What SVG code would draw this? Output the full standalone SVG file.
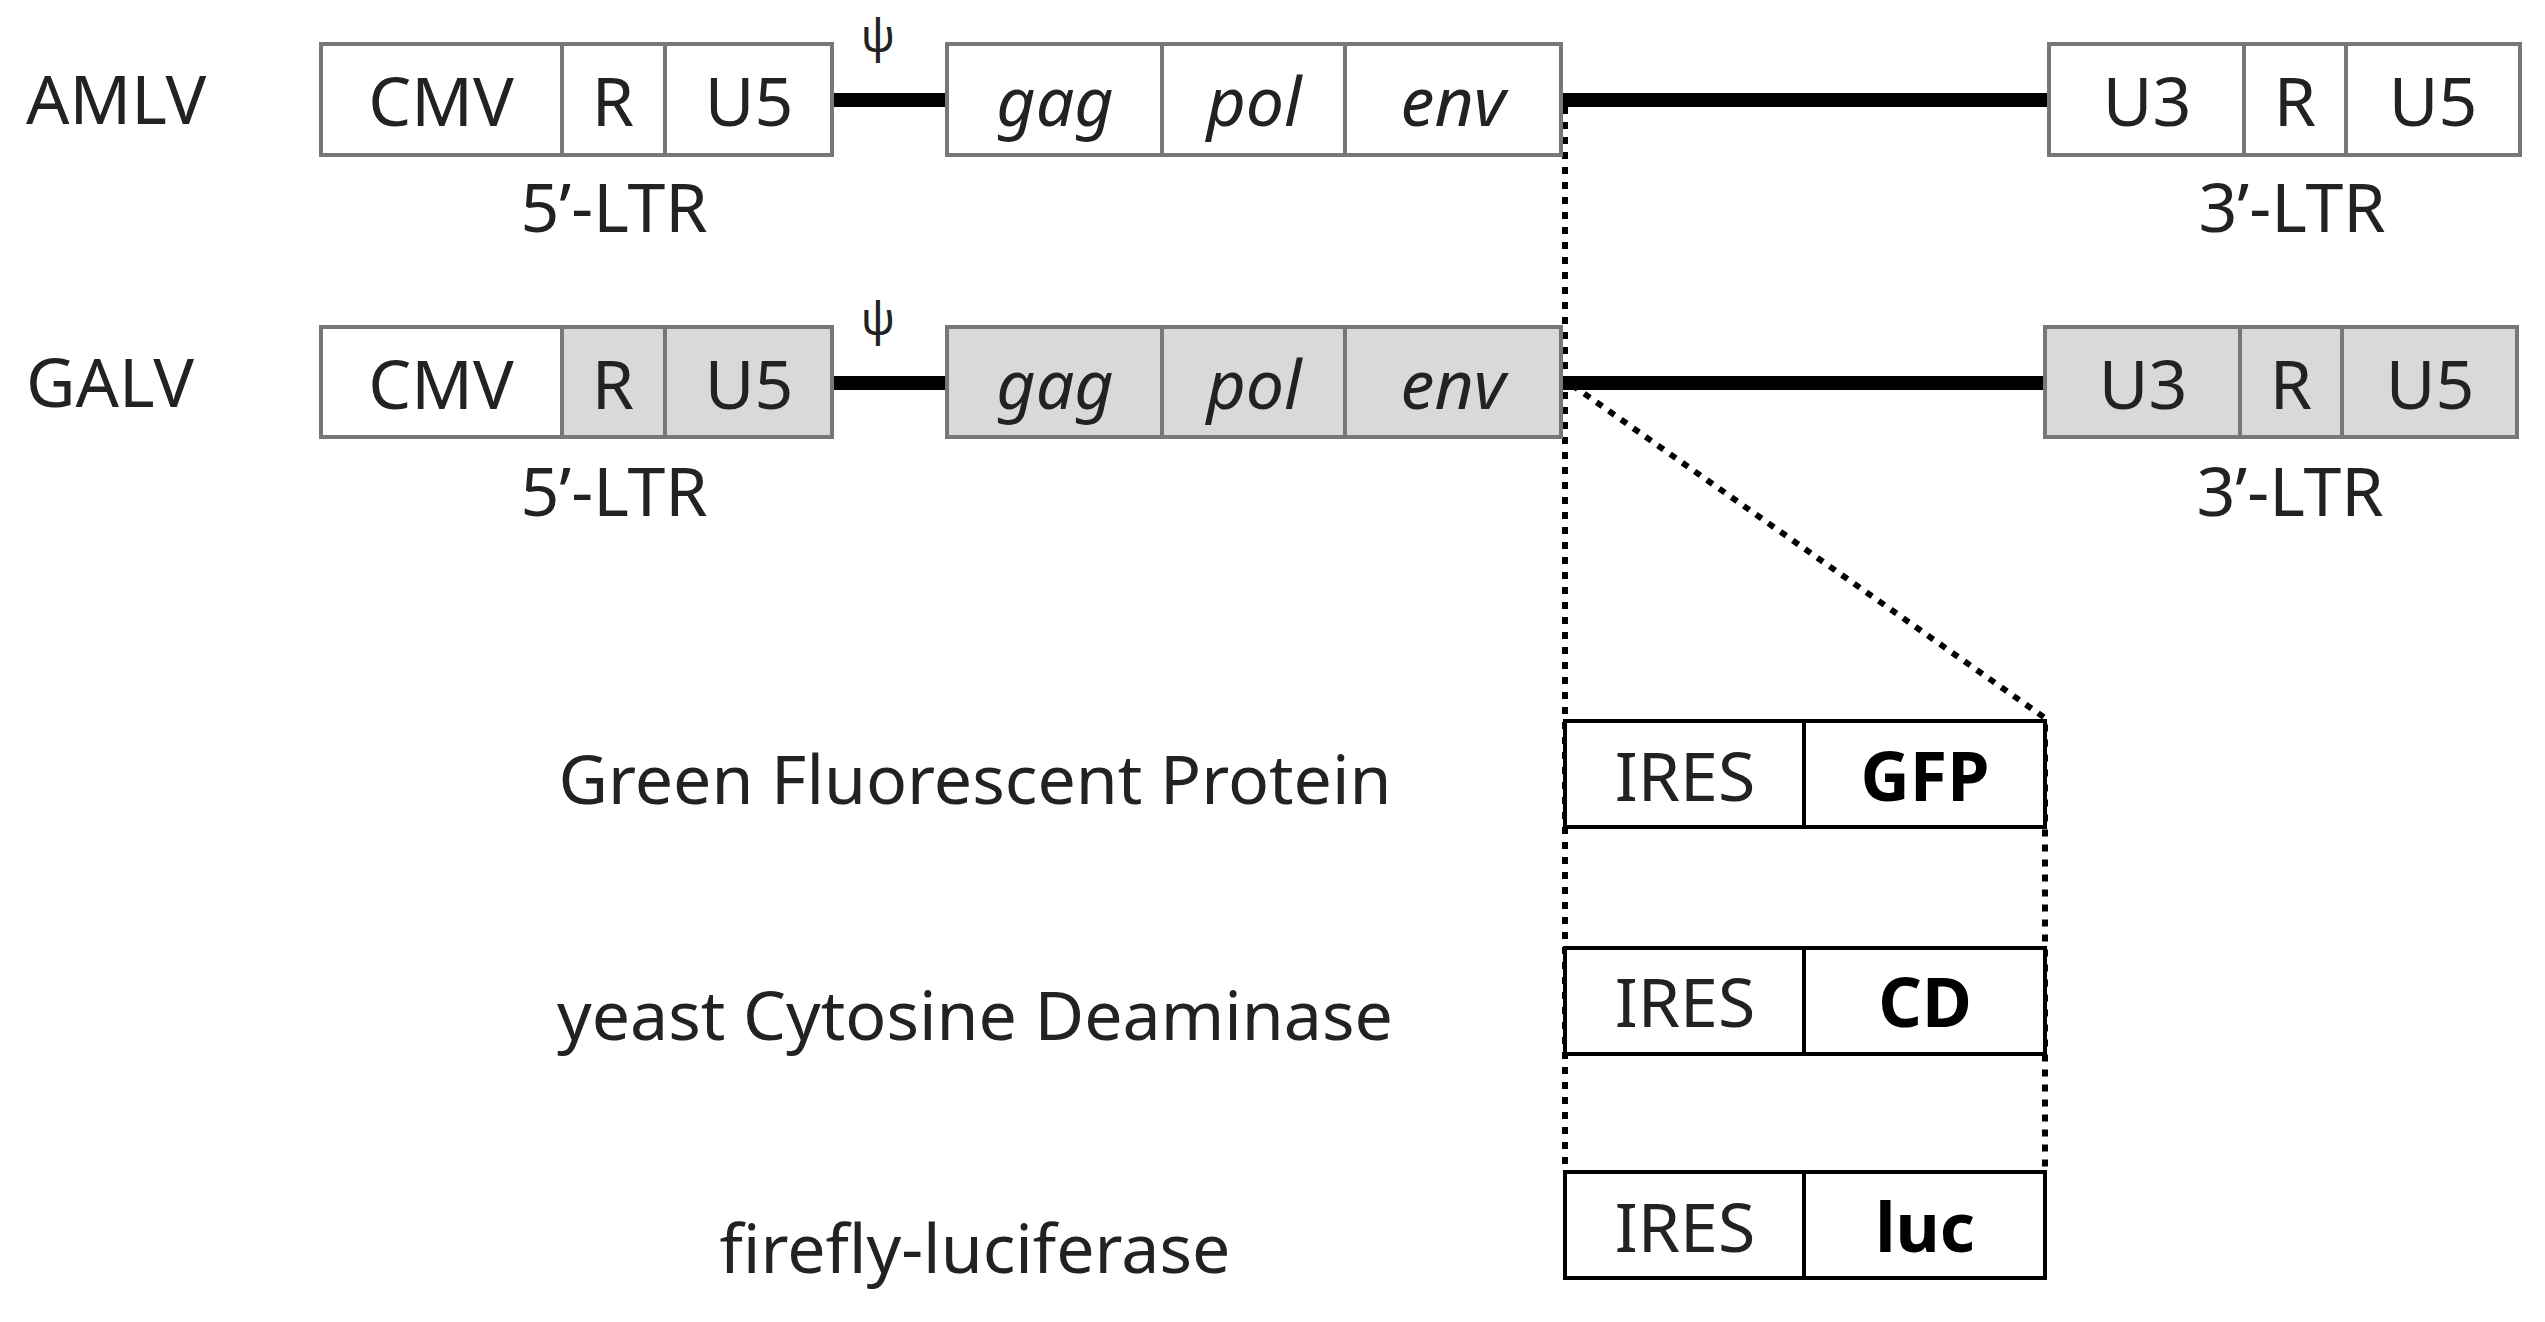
<svg xmlns="http://www.w3.org/2000/svg" width="2545" height="1322" viewBox="0 0 2545 1322">
<style>
text{font-family:"Noto Sans","Liberation Sans",sans-serif;fill:#222;font-size:68px;text-anchor:middle}
.b{fill:#fff;stroke:#777;stroke-width:4}
.g{fill:#d9d9d9;stroke:#777;stroke-width:4}
.k{fill:#fff;stroke:#000;stroke-width:4}
.i{font-style:italic}
.bd{font-weight:bold;fill:#000}
.l{text-anchor:start}
.line{stroke:#000;stroke-width:14}
.dot{stroke:#000;stroke-width:6;stroke-dasharray:7 8;fill:none}
.psi{font-size:46px}
</style>
<g id="connectors">
<line class="line" x1="832" y1="100" x2="947" y2="100"/>
<line class="line" x1="1561" y1="100" x2="2049" y2="100"/>
<line class="line" x1="832" y1="383" x2="947" y2="383"/>
<line class="line" x1="1561" y1="383" x2="2045" y2="383"/>
<line class="dot" x1="1565" y1="107" x2="1565" y2="1172"/>
<polyline class="dot" points="1572,385 2045,718 2045,1172"/>
</g>
<g id="amlv">
<text class="l" x="26" y="124">AMLV</text>
<rect class="b" x="321" y="44" width="241" height="111"/><text x="441" y="126">CMV</text>
<rect class="b" x="562" y="44" width="103" height="111"/><text x="613" y="126">R</text>
<rect class="b" x="665" y="44" width="167" height="111"/><text x="749" y="126">U5</text>
<text class="psi" x="878" y="52">ψ</text>
<rect class="b" x="947" y="44" width="215" height="111"/><text class="i" x="1055" y="126">gag</text>
<rect class="b" x="1162" y="44" width="183" height="111"/><text class="i" x="1254" y="126">pol</text>
<rect class="b" x="1345" y="44" width="216" height="111"/><text class="i" x="1453" y="126">env</text>
<rect class="b" x="2049" y="44" width="195" height="111"/><text x="2147" y="126">U3</text>
<rect class="b" x="2244" y="44" width="102" height="111"/><text x="2295" y="126">R</text>
<rect class="b" x="2346" y="44" width="174" height="111"/><text x="2433" y="126">U5</text>
<text x="614" y="232">5’-LTR</text>
<text x="2292" y="232">3’-LTR</text>
</g>
<g id="galv">
<text class="l" x="26" y="407">GALV</text>
<rect class="b" x="321" y="327" width="241" height="110"/><text x="441" y="409">CMV</text>
<rect class="g" x="562" y="327" width="103" height="110"/><text x="613" y="409">R</text>
<rect class="g" x="665" y="327" width="167" height="110"/><text x="749" y="409">U5</text>
<text class="psi" x="878" y="335">ψ</text>
<rect class="g" x="947" y="327" width="215" height="110"/><text class="i" x="1055" y="409">gag</text>
<rect class="g" x="1162" y="327" width="183" height="110"/><text class="i" x="1254" y="409">pol</text>
<rect class="g" x="1345" y="327" width="216" height="110"/><text class="i" x="1453" y="409">env</text>
<rect class="g" x="2045" y="327" width="195" height="110"/><text x="2143" y="409">U3</text>
<rect class="g" x="2240" y="327" width="102" height="110"/><text x="2291" y="409">R</text>
<rect class="g" x="2342" y="327" width="175" height="110"/><text x="2430" y="409">U5</text>
<text x="614" y="516">5’-LTR</text>
<text x="2290" y="516">3’-LTR</text>
</g>
<g id="gfp">
<text x="975" y="804">Green Fluorescent Protein</text>
<rect class="k" x="1565" y="721" width="239" height="106"/><text x="1685" y="801">IRES</text>
<rect class="k" x="1804" y="721" width="241" height="106"/><text class="bd" x="1925" y="801">GFP</text>
</g>
<g id="cd">
<text x="975" y="1040">yeast Cytosine Deaminase</text>
<rect class="k" x="1565" y="948" width="239" height="106"/><text x="1685" y="1027">IRES</text>
<rect class="k" x="1804" y="948" width="241" height="106"/><text class="bd" x="1925" y="1027">CD</text>
</g>
<g id="luc">
<text x="975" y="1273">firefly-luciferase</text>
<rect class="k" x="1565" y="1172" width="239" height="106"/><text x="1685" y="1252">IRES</text>
<rect class="k" x="1804" y="1172" width="241" height="106"/><text class="bd" x="1925" y="1252">luc</text>
</g>
</svg>
